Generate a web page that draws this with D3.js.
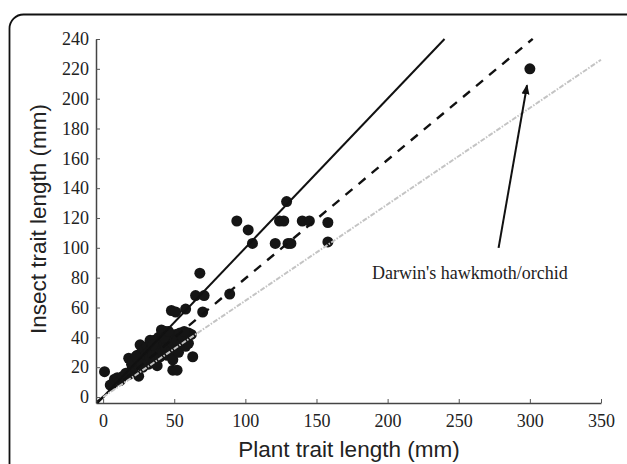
<!DOCTYPE html>
<html>
<head>
<meta charset="utf-8">
<script src="https://cdn.jsdelivr.net/npm/d3@7"></script>
<style>
  body { margin: 0; background: #fff; }
  svg { display: block; }
  .tick text { font-family: "Liberation Serif", "Times New Roman", serif; font-size: 18px; }
</style>
</head>
<body>
<script>
// Plant trait length (x) vs insect trait length (y), in mm
const plantLengths = [
  1, 5, 8, 10, 12, 14, 16, 18, 18, 20, 20, 22, 22, 24, 24, 25, 26, 26, 27, 28,
  28, 29, 30, 30, 31, 32, 32, 33, 34, 34, 35, 36, 36, 37, 38, 38, 39, 39, 40, 40,
  41, 42, 42, 43, 44, 44, 45, 45, 46, 47, 47, 48, 49, 49, 50, 50, 51, 52, 52, 53,
  54, 55, 56, 58, 60, 60, 62, 63, 57, 48, 51, 58, 65, 71, 70, 68, 89,
  94, 102, 105, 129, 121, 124, 127, 130, 132, 140, 145, 158, 158, 300,
  21, 23, 27, 33, 35, 41, 43, 46
];
const insectLengths = [
  17, 8, 12, 13, 11, 14, 16, 15, 26, 18, 22, 20, 25, 22, 28, 14, 24, 35, 30, 20,
  26, 32, 24, 28, 34, 22, 30, 26, 36, 32, 28, 24, 38, 33, 30, 21, 40, 35, 27, 32,
  38, 30, 42, 36, 44, 33, 28, 40, 38, 35, 42, 31, 25, 18, 40, 34, 42, 38, 18, 30,
  43, 36, 40, 34, 36, 43, 42, 27, 44, 58, 57, 59, 68, 68, 57, 83, 69,
  118, 112, 103, 131, 103, 118, 118, 103, 103, 118, 118, 117, 104, 220,
  24, 27, 22, 38, 35, 45, 40, 44
];

// Fitted lines: slope through the origin, and x extent
const fitNames = ['isometry', 'allometry', 'weak'];
const fitSlopes = [1.0, 0.795, 0.646];
const fitStarts = [-4, -4, 0];
const fitEnds = [240, 302, 350];

const xTicks = [0, 50, 100, 150, 200, 250, 300, 350];
const yTicks = [0, 20, 40, 60, 80, 100, 120, 140, 160, 180, 200, 220, 240];

const annotationText = "Darwin's hawkmoth/orchid";
const arrowFrom = [278, 100];
const arrowTo = [298, 209];

const W = 627, H = 464;
const serif = '"Liberation Serif", "Times New Roman", serif';
const sans = '"Liberation Sans", Arial, sans-serif';

const svg = d3.select('body').append('svg')
  .attr('width', W)
  .attr('height', H);

// Marker for the arrow head
svg.append('defs').append('marker')
  .attr('id', 'head')
  .attr('viewBox', '0 0 10 10')
  .attr('refX', 9)
  .attr('refY', 5)
  .attr('markerWidth', 5)
  .attr('markerHeight', 5)
  .attr('orient', 'auto')
  .append('path')
  .attr('d', 'M0,1 L10,5 L0,9 Z')
  .attr('fill', '#111');

// Rounded frame around the figure
svg.append('rect')
  .attr('x', 9.5)
  .attr('y', 14.5)
  .attr('width', 660)
  .attr('height', 490)
  .attr('rx', 14)
  .attr('fill', 'none')
  .attr('stroke', '#111')
  .attr('stroke-width', 1.8);

const x = d3.scaleLinear().domain([-5, 350]).range([96, 601]);
const y = d3.scaleLinear().domain([-4, 240]).range([403, 39]);

const xAxis = d3.axisBottom(x).tickValues(xTicks)
  .tickSizeInner(-4).tickSizeOuter(0).tickPadding(11);
const yAxis = d3.axisLeft(y).tickValues(yTicks)
  .tickSizeInner(-4).tickSizeOuter(0).tickPadding(7);

const gx = svg.append('g')
  .attr('transform', `translate(0,${y(-4)})`)
  .call(xAxis);
const gy = svg.append('g')
  .attr('transform', `translate(${x(-5)},0)`)
  .call(yAxis);

[gx, gy].forEach(g => {
  g.attr('font-family', serif).attr('font-size', 18);
  g.select('.domain').attr('stroke', '#444').attr('stroke-width', 1.5);
  g.selectAll('.tick line').attr('stroke', '#555');
  g.selectAll('.tick text').attr('fill', '#222');
});

// Points
const pts = plantLengths.map((p, i) => ({ p: p, q: insectLengths[i] }));
svg.append('g').selectAll('circle')
  .data(pts)
  .enter()
  .append('circle')
  .attr('cx', d => x(d.p))
  .attr('cy', d => y(d.q))
  .attr('r', 5.5)
  .attr('fill', '#151515');

// Fitted lines
const lineStyles = {
  isometry: { stroke: '#111', width: 2, dash: null },
  allometry: { stroke: '#111', width: 2.4, dash: '9,8' },
  weak: { stroke: '#c4c4c4', width: 2, dash: '5,1.5,1.5,1.5' }
};
fitNames.forEach((name, i) => {
  const s = lineStyles[name];
  svg.append('line')
    .attr('x1', x(fitStarts[i]))
    .attr('y1', y(fitStarts[i] * fitSlopes[i]))
    .attr('x2', x(fitEnds[i]))
    .attr('y2', y(fitEnds[i] * fitSlopes[i]))
    .attr('stroke', s.stroke)
    .attr('stroke-width', s.width)
    .attr('stroke-dasharray', s.dash);
});

// Annotation arrow and label
svg.append('line')
  .attr('x1', x(arrowFrom[0]))
  .attr('y1', y(arrowFrom[1]))
  .attr('x2', x(arrowTo[0]))
  .attr('y2', y(arrowTo[1]))
  .attr('stroke', '#111')
  .attr('stroke-width', 2)
  .attr('marker-end', 'url(#head)');

svg.append('text')
  .attr('x', 372)
  .attr('y', 279)
  .attr('fill', '#222')
  .style('font-family', serif)
  .style('font-size', '18px')
  .text(annotationText);

// Axis titles
svg.append('text')
  .attr('transform', 'translate(46,219) rotate(-90)')
  .attr('text-anchor', 'middle')
  .attr('fill', '#222')
  .style('font-family', sans)
  .style('font-size', '22.5px')
  .text('Insect trait length (mm)');

svg.append('text')
  .attr('x', 349)
  .attr('y', 457)
  .attr('text-anchor', 'middle')
  .attr('fill', '#222')
  .style('font-family', sans)
  .style('font-size', '22.5px')
  .text('Plant trait length (mm)');
</script>
</body>
</html>
